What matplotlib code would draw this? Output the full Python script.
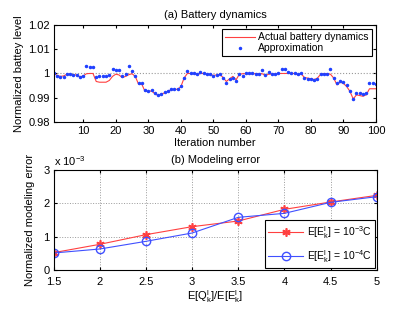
import numpy as np
import matplotlib
matplotlib.use('Agg')
import matplotlib.pyplot as plt

plt.rcParams['font.family'] = ['Liberation Sans', 'DejaVu Sans']
plt.rcParams['font.size'] = 8
plt.rcParams['mathtext.fontset'] = 'custom'
plt.rcParams['mathtext.rm'] = 'Liberation Sans'
plt.rcParams['mathtext.it'] = 'Liberation Sans'

# ---- (a) battery dynamics ----
iterations = np.arange(1, 101)
actual = [
    1.0000, 0.9992, 0.9988, 0.9990, 0.9997, 0.9996, 0.9994, 0.9994, 0.9986, 0.9990,
    0.9999, 1.0000, 1.0000, 0.9967, 0.9964, 0.9964, 0.9964, 0.9971, 0.9988, 0.9997,
    0.9994, 0.9983, 0.9988, 0.9995, 0.9999, 0.9988, 0.9956, 0.9956, 0.9926, 0.9926,
    0.9928, 0.9917, 0.9909, 0.9915, 0.9920, 0.9926, 0.9933, 0.9934, 0.9935, 0.9945,
    0.9981, 1.0000, 1.0000, 0.9999, 0.9996, 1.0000, 1.0000, 0.9997, 0.9996, 0.9992,
    0.9994, 0.9997, 0.9983, 0.9967, 0.9978, 0.9988, 0.9974, 0.9997, 0.9999, 0.9999,
    0.9999, 0.9999, 0.9999, 0.9999, 0.9999, 0.9992, 0.9997, 0.9998, 0.9998, 1.0000,
    1.0000, 1.0000, 1.0000, 1.0000, 1.0000, 0.9994, 0.9999, 0.9983, 0.9981, 0.9978,
    0.9975, 0.9981, 0.9997, 0.9999, 0.9999, 0.9997, 0.9981, 0.9953, 0.9964, 0.9959,
    0.9946, 0.9926, 0.9895, 0.9912, 0.9909, 0.9906, 0.9912, 0.9937, 0.9937, 0.9937,
]
approx = [
    1.0000, 0.9988, 0.9986, 0.9987, 0.9998, 0.9996, 0.9994, 0.9994, 0.9985, 0.9989,
    1.0030, 1.0026, 1.0025, 0.9985, 0.9990, 0.9990, 0.9990, 0.9994, 1.0017, 1.0014,
    1.0014, 0.9990, 0.9997, 1.0032, 1.0011, 0.9988, 0.9959, 0.9960, 0.9930, 0.9928,
    0.9931, 0.9920, 0.9912, 0.9916, 0.9923, 0.9928, 0.9935, 0.9937, 0.9937, 0.9948,
    0.9983, 1.0011, 1.0003, 1.0000, 0.9997, 1.0006, 1.0004, 0.9997, 0.9997, 0.9988,
    0.9994, 0.9997, 0.9981, 0.9960, 0.9978, 0.9983, 0.9970, 0.9997, 0.9988, 1.0000,
    1.0000, 1.0000, 0.9997, 0.9997, 1.0014, 0.9994, 1.0008, 0.9997, 0.9997, 1.0000,
    1.0019, 1.0018, 1.0008, 1.0003, 1.0003, 0.9997, 1.0000, 0.9981, 0.9978, 0.9978,
    0.9974, 0.9978, 0.9997, 0.9997, 0.9997, 1.0018, 0.9983, 0.9960, 0.9971, 0.9964,
    0.9953, 0.9928, 0.9895, 0.9920, 0.9920, 0.9915, 0.9920, 0.9959, 0.9959, 0.9956,
]

# ---- (b) modeling error ----
ratio = [1.5, 2, 2.5, 3, 3.5, 4, 4.5, 5]
err_1e3 = [0.52e-3, 0.77e-3, 1.06e-3, 1.30e-3, 1.47e-3, 1.82e-3, 2.04e-3, 2.24e-3]
err_1e4 = [0.51e-3, 0.63e-3, 0.86e-3, 1.11e-3, 1.58e-3, 1.70e-3, 2.03e-3, 2.20e-3]

fig = plt.figure(figsize=(4.15, 3.12), dpi=100)

ax1 = fig.add_axes([0.130, 0.609, 0.776, 0.311])
ax1.axhline(1.0, color='0.6', linestyle=':', linewidth=0.8)
ax1.plot(iterations, actual, color='#ff4040', linewidth=0.8, label='Actual battery dynamics')
ax1.plot(iterations, approx, linestyle='none', marker='.', markersize=3,
         color='#2040ff', label='Approximation')
ax1.set_xlim(1, 100)
ax1.set_ylim(0.98, 1.02)
ax1.set_xticks(np.arange(10, 101, 10))
ax1.set_yticks([0.98, 0.99, 1.0, 1.01, 1.02])
ax1.set_yticklabels(['0.98', '0.99', '1', '1.01', '1.02'])
ax1.set_title('(a) Battery dynamics', fontsize=8, pad=5)
ax1.set_xlabel('Iteration number', labelpad=1)
ax1.set_ylabel('Normalized battey level', labelpad=3)
ax1.tick_params(direction='in', length=2.5, pad=3, top=True, right=True)
leg1 = ax1.legend(loc='upper right', fontsize=7.5, fancybox=False, framealpha=1,
                  edgecolor='black', borderpad=0.3, labelspacing=0.1,
                  handlelength=2.9, handletextpad=0.3, borderaxespad=0.4)
leg1.get_frame().set_linewidth(0.8)

ax2 = fig.add_axes([0.129, 0.1346, 0.779, 0.3205])
ax2.plot(ratio, err_1e3, color='#ff4040', linewidth=0.8, marker=(6, 2, 0), markersize=6,
         markeredgewidth=1.2, label=r'E[E$_k^l$] = 10$^{-3}$C')
ax2.plot(ratio, err_1e4, color='#4050ff', linewidth=0.8, marker='o', markersize=6,
         markerfacecolor='none', label=r'E[E$_k^l$] = 10$^{-4}$C')
ax2.set_xlim(1.5, 5)
ax2.set_ylim(0, 3e-3)
ax2.set_xticks(ratio)
ax2.set_xticklabels(['1.5', '2', '2.5', '3', '3.5', '4', '4.5', '5'])
ax2.set_yticks([0, 1e-3, 2e-3, 3e-3])
ax2.set_yticklabels(['0', '1', '2', '3'])
ax2.text(0.0, 1.02, r'x 10$^{-3}$', transform=ax2.transAxes, fontsize=8, va='bottom')
ax2.grid(True, linestyle=':', color='0.6', linewidth=0.7)
ax2.set_title('(b) Modeling error', fontsize=8, pad=5)
ax2.set_xlabel(r'E[Q$_k^l$]/E[E$_k^l$]', labelpad=1)
ax2.set_ylabel('Normalized modeling error', labelpad=6)
ax2.tick_params(direction='in', length=2.5, pad=3, top=True, right=True)
ax2.tick_params(axis='x', pad=5)
leg2 = ax2.legend(loc='lower right', fontsize=7.5, fancybox=False, framealpha=1,
                  edgecolor='black', borderpad=0.35, labelspacing=0.7,
                  handlelength=3.3, handletextpad=0.4, borderaxespad=0.15)
leg2.get_frame().set_linewidth(0.8)

for ax in (ax1, ax2):
    for s in ax.spines.values():
        s.set_linewidth(0.8)

fig.savefig('out.png', dpi=100)
